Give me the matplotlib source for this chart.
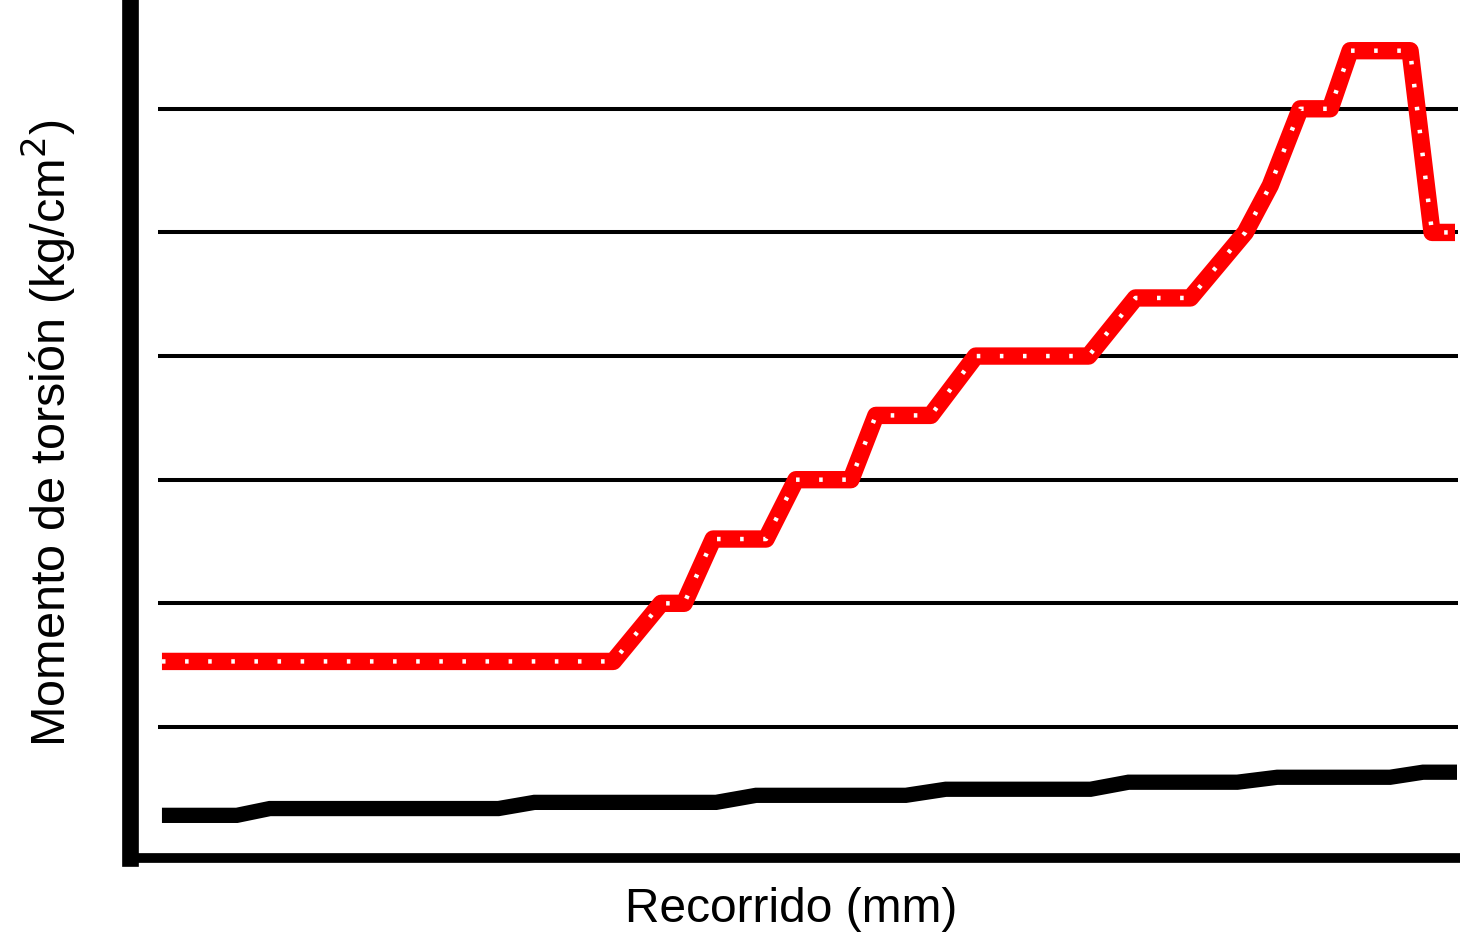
import matplotlib
matplotlib.use('Agg')
import matplotlib.pyplot as plt

# recorrido (arbitrary units) / momento de torsion (grid units)
red_x = [3.2, 48.4, 53.2, 55.5, 58.4, 63.7, 66.7, 72.2, 74.7, 80.2, 84.7, 96.0,
         100.7, 106.2, 111.7, 114.2, 117.2, 120.2, 122.2, 128.2, 130.4, 132.7]
red_y = [1.53, 1.53, 2.0, 2.0, 2.52, 2.52, 3.0, 3.0, 3.52, 3.52, 4.0, 4.0,
         4.47, 4.47, 5.0, 5.38, 6.0, 6.0, 6.47, 6.47, 5.0, 5.0]

black_x = [3.2, 10.7, 14.0, 36.9, 40.5, 58.7, 62.7, 77.7, 81.7, 96.2, 100.0,
           110.9, 114.9, 126.2, 129.5, 132.9]
black_y = [0.285, 0.285, 0.34, 0.34, 0.39, 0.39, 0.447, 0.447, 0.496, 0.496,
           0.553, 0.553, 0.593, 0.593, 0.634, 0.634]

grid_y = [1, 2, 3, 4, 5, 6]

plt.rcParams['font.family'] = ['Liberation Sans', 'DejaVu Sans']

fig = plt.figure(figsize=(14.6, 9.35), dpi=100)
ax = fig.add_axes([130 / 1460, 77 / 935, 1328 / 1460, 858 / 935])

ax.hlines(grid_y, 2.8, 133, color='black', lw=2.9, zorder=1)

ax.plot(black_x, black_y, color='black', lw=11, solid_capstyle='butt',
        solid_joinstyle='miter', zorder=2)
ax.plot(red_x, red_y, color='#ff0000', lw=12.5, solid_capstyle='butt', zorder=3)
# white dots inside the red line
ax.plot(red_x, red_y, color='white', lw=3.2, dashes=(0.8, 4.4), zorder=4)

ax.set_xlim(0, 133)
ax.set_ylim(-0.06, 6.88)
ax.set_xticks([])
ax.set_yticks([])
ax.spines['top'].set_visible(False)
ax.spines['right'].set_visible(False)
ax.spines['left'].set_linewidth(12)
ax.spines['bottom'].set_linewidth(7)

fig.text(0.542, 0.027, 'Recorrido (mm)', fontsize=34.5, ha='center', va='center')
fig.text(0.033, 0.537, 'Momento de torsión (kg/cm$^2$)', fontsize=35,
         rotation=90, ha='center', va='center')

plt.savefig('out.png', dpi=100)
